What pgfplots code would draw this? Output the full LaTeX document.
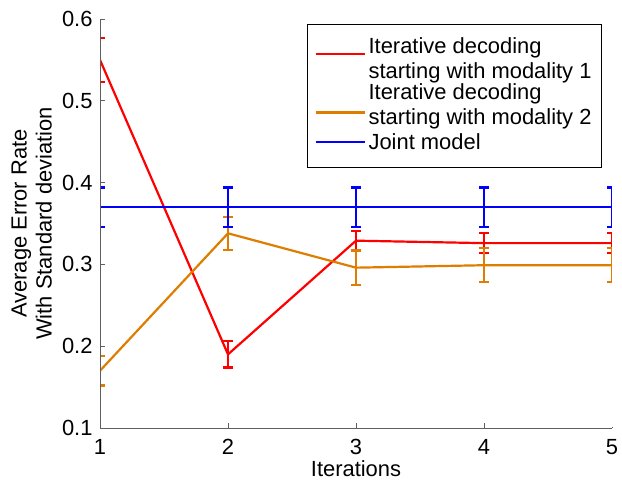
\documentclass[border=0pt]{standalone}
\usepackage{fontspec}
\setmainfont{Liberation Sans}
\usepackage{pgfplots}
\pgfplotsset{compat=1.18}

\definecolor{mred}{RGB}{255,0,0}
\definecolor{morange}{RGB}{222,125,0}
\definecolor{mblue}{RGB}{0,0,255}
\definecolor{axgray}{RGB}{95,95,95}

\pgfplotsset{
    errs/.style={error bars/y dir=both, error bars/y explicit},
}

\begin{document}
\begin{tikzpicture}[x=1bp,y=1bp]
\begin{axis}[
    scale only axis,
    width=512bp, height=409bp,
    xmin=1, xmax=5, ymin=0.1, ymax=0.6,
    xtick={1,2,3,4,5},
    ytick={0.1,0.2,0.3,0.4,0.5,0.6},
    yticklabel style={/pgf/number format/fixed, /pgf/number format/precision=1, xshift=-4bp},
    /pgf/number format/assume math mode=true,
    axis x line*=bottom, axis y line*=left,
    axis line style={axgray, line width=0.8bp, -},
    tick style={axgray, line width=0.6bp},
    tick align=inside,
    major tick length=5bp,
    tick label style={font=\fontsize{22}{26}\selectfont},
    xticklabel style={yshift=-8bp},
    label style={font=\fontsize{22}{25}\selectfont},
    xlabel={Iterations},
    xlabel style={at={(rel axis cs:0.5,0)}, anchor=base, yshift=-48bp, inner sep=0pt},
    ylabel={Average Error Rate\\With Standard deviation},
    ylabel style={align=center, at={(rel axis cs:0,0.5)}, anchor=south,
        yshift=48bp, inner sep=0pt},
    legend style={at={(0.4043,0.9853)}, anchor=north west, draw=black, line width=0.8bp,
        font=\fontsize{22}{24.75}\selectfont, cells={align=left, anchor=west},
        inner xsep=7bp, inner ysep=11bp, row sep=0bp, yshift=1bp,
        nodes={inner xsep=3bp, inner ysep=2.2bp}},
    legend cell align=left,
    legend image code/.code={
        \path[draw=none, fill=none] (0bp,-14bp) rectangle (49bp,14bp);
        \draw[#1] (0bp,0bp) -- (49bp,0bp);},
    every axis plot post/.append style={line width=2.2bp},
    error bars/error bar style={line width=2.2bp},
    error bars/error mark options={rotate=90, mark size=5bp, line width=2.2bp},
]
\addplot[mred, errs, legend image post style={yshift=5bp}] coordinates {
    (1,0.550) +- (0,0.027)
    (2,0.190) +- (0,0.016)
    (3,0.329) +- (0,0.012)
    (4,0.326) +- (0,0.012)
    (5,0.326) +- (0,0.012)
};
\addlegendentry{Iterative decoding\\starting with modality 1}
\addplot[morange, errs, legend image post style={yshift=-7.5bp}] coordinates {
    (1,0.170) +- (0,0.018)
    (2,0.338) +- (0,0.020)
    (3,0.296) +- (0,0.021)
    (4,0.299) +- (0,0.021)
    (5,0.299) +- (0,0.021)
};
\addlegendentry{Iterative decoding\\starting with modality 2}
\addplot[mblue, errs] coordinates {
    (1,0.370) +- (0,0.024)
    (2,0.370) +- (0,0.024)
    (3,0.370) +- (0,0.024)
    (4,0.370) +- (0,0.024)
    (5,0.370) +- (0,0.024)
};
\addlegendentry{Joint model}
\coordinate (ll) at (rel axis cs:0,0);
\coordinate (ul) at (rel axis cs:0,1);
\coordinate (lr) at (rel axis cs:1,0);
\coordinate (ur) at (rel axis cs:1,1);
\end{axis}
% hide the halves of the end error caps that lie outside the axis
\fill[white] ([xshift=-5.5bp]ll) rectangle ([yshift=1bp]ul);
\fill[white] ([yshift=1bp]lr) rectangle ([xshift=5.5bp,yshift=1bp]ur);
\draw[axgray, line width=0.8bp] (ll) -- (ul);
\pgfresetboundingbox
\path ([shift={(-100bp,-52bp)}]ll) rectangle ([shift={(10bp,19bp)}]ur);
\end{tikzpicture}
\end{document}
